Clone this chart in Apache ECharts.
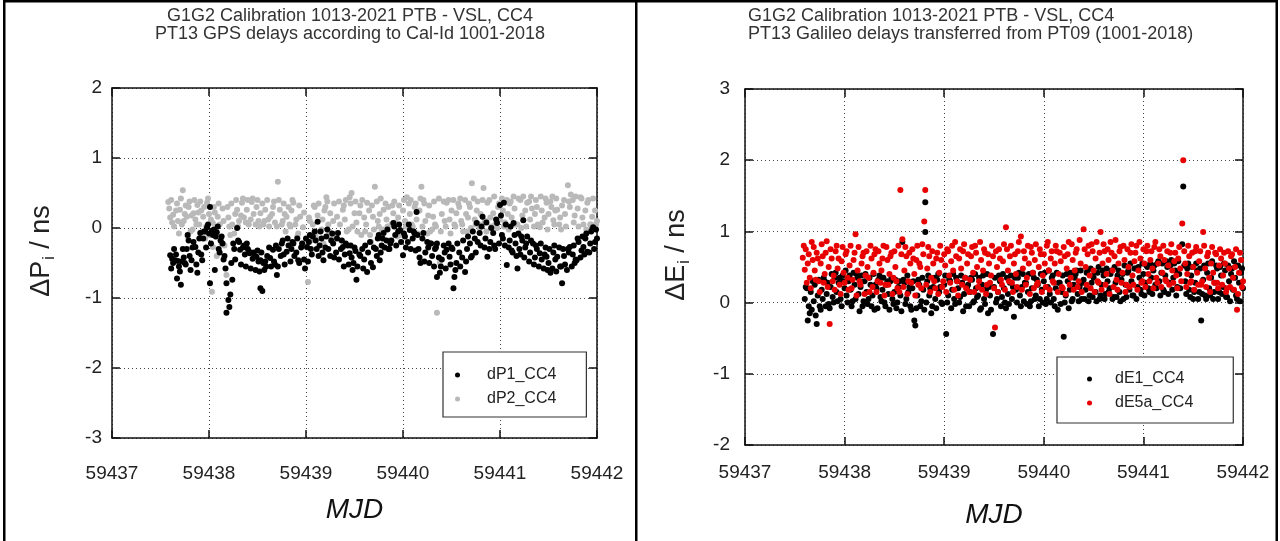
<!DOCTYPE html>
<html>
<head>
<meta charset="utf-8">
<script src="https://cdn.jsdelivr.net/npm/echarts@6/dist/echarts.min.js"></script>
<style>
html,body{margin:0;padding:0;background:#fff;}
#chart{width:1280px;height:541px;}
</style>
</head>
<body>
<div id="chart"></div>
<script>
// ---------- DATA ----------
const xTicks = [59437, 59438, 59439, 59440, 59441, 59442];
const leftTitle = 'G1G2 Calibration 1013-2021 PTB - VSL, CC4\nPT13 GPS delays according to Cal-Id 1001-2018';
const rightTitle = 'G1G2 Calibration 1013-2021 PTB - VSL, CC4\nPT13 Galileo delays transferred from PT09 (1001-2018)';
const seriesNames = ['dP1_CC4', 'dP2_CC4', 'dE1_CC4', 'dE5a_CC4'];

const dP1 = [
[59437.60,-0.39],[59437.62,-0.44],[59437.63,-0.50],[59437.65,-0.46],[59437.66,-0.38],[59437.67,-0.72],[59437.69,-0.55],[59437.71,-0.81],
[59437.72,-0.48],[59437.74,-0.42],[59437.75,-0.50],[59437.77,-0.30],[59437.78,-0.10],[59437.80,-0.40],[59437.82,-0.46],[59437.84,-0.20],
[59437.86,-0.27],[59437.88,-0.64],[59437.89,-0.35],[59437.91,-0.07],[59437.93,-0.46],[59437.94,-0.15],[59437.96,-0.05],[59437.98,0.01],
[59438.00,-0.08],[59438.01,0.30],[59438.01,-0.79],[59438.03,-0.04],[59438.04,-0.10],[59438.05,-0.02],[59438.06,-0.60],[59438.07,-0.12],
[59438.08,-0.06],[59438.10,-0.30],[59438.12,-0.18],[59438.14,-0.22],[59438.16,-0.40],[59438.18,-0.79],[59438.18,-1.21],[59438.20,-1.03],
[59438.21,-1.13],[59438.22,-0.95],[59438.24,-0.74],[59438.26,-0.30],[59438.29,0.00],[59438.31,-0.20],[59438.32,-0.31],[59438.35,-0.28],
[59438.37,-0.38],[59438.39,-0.22],[59438.41,-0.33],[59438.42,-0.36],[59438.45,-0.44],[59438.47,-0.40],[59438.49,-0.41],[59438.51,-0.48],
[59438.53,-0.46],[59438.53,-0.86],[59438.55,-0.90],[59438.56,-0.50],[59438.58,-0.48],[59438.60,-0.40],[59438.63,-0.43],[59438.66,-0.31],
[59438.68,-0.52],[59438.70,-0.67],[59438.72,-0.30],[59438.75,-0.22],[59438.77,-0.38],[59438.80,-0.34],[59438.82,-0.25],[59438.85,-0.30],
[59438.87,-0.22],[59438.90,-0.35],[59438.92,-0.46],[59438.95,-0.28],[59438.99,-0.58],[59439.01,-0.27],[59439.03,-0.20],[59439.05,-0.30],
[59439.07,-0.12],[59439.10,-0.18],[59439.12,0.09],[59439.14,-0.25],[59439.16,-0.15],[59439.18,-0.46],[59439.21,-0.12],[59439.23,-0.30],
[59439.26,-0.18],[59439.28,-0.22],[59439.31,-0.35],[59439.33,-0.07],[59439.36,-0.30],[59439.38,-0.27],[59439.40,-0.38],[59439.43,-0.25],
[59439.45,-0.36],[59439.47,-0.42],[59439.49,-0.50],[59439.51,-0.33],[59439.52,-0.74],[59439.55,-0.38],[59439.58,-0.30],[59439.60,-0.45],
[59439.63,-0.63],[59439.66,-0.20],[59439.69,-0.56],[59439.72,-0.30],[59439.74,-0.15],[59439.76,-0.46],[59439.78,-0.25],[59439.80,-0.07],
[59439.83,-0.18],[59439.85,-0.30],[59439.87,-0.22],[59439.90,0.07],[59439.92,-0.10],[59439.95,-0.05],[59439.97,-0.03],[59440.00,-0.39],
[59440.02,-0.12],[59440.05,-0.20],[59440.07,-0.03],[59440.10,-0.15],[59440.12,-0.08],[59440.14,0.23],[59440.16,-0.30],[59440.18,-0.50],
[59440.21,-0.07],[59440.23,-0.35],[59440.26,-0.28],[59440.28,-0.22],[59440.30,-0.40],[59440.33,-0.30],[59440.35,-0.22],[59440.35,-0.70],
[59440.38,-0.64],[59440.40,-0.45],[59440.43,-0.35],[59440.45,-0.31],[59440.48,-0.41],[59440.50,-0.28],[59440.52,-0.86],[59440.53,-0.70],
[59440.55,-0.50],[59440.58,-0.35],[59440.61,-0.42],[59440.64,-0.63],[59440.66,-0.30],[59440.69,-0.22],[59440.71,-0.40],[59440.74,-0.15],
[59440.76,0.07],[59440.79,-0.07],[59440.80,-0.25],[59440.82,0.16],[59440.85,-0.15],[59440.87,-0.41],[59440.90,-0.20],[59440.93,-0.07],
[59440.95,-0.30],[59440.97,0.07],[59441.00,0.33],[59441.02,-0.10],[59441.04,0.36],[59441.05,-0.25],[59441.07,-0.53],[59441.10,-0.18],
[59441.12,-0.32],[59441.14,0.07],[59441.16,-0.22],[59441.18,-0.58],[59441.20,-0.30],[59441.22,-0.12],[59441.24,0.11],[59441.26,-0.28],
[59441.28,-0.12],[59441.31,-0.35],[59441.34,-0.22],[59441.36,-0.42],[59441.38,-0.30],[59441.41,-0.36],[59441.43,-0.45],[59441.46,-0.38],
[59441.48,-0.41],[59441.50,-0.50],[59441.52,-0.64],[59441.55,-0.35],[59441.57,-0.45],[59441.59,-0.41],[59441.62,-0.55],[59441.64,-0.79],
[59441.66,-0.40],[59441.69,-0.60],[59441.70,-0.30],[59441.72,-0.27],[59441.75,-0.38],[59441.77,-0.50],[59441.79,-0.46],[59441.81,-0.20],
[59441.84,-0.32],[59441.86,-0.27],[59441.88,-0.15],[59441.90,-0.34],[59441.93,-0.22],[59441.96,0.01],[59441.98,-0.20],[59442.00,-0.15],
[59437.61,-0.58],[59437.64,-0.30],[59437.68,-0.47],[59437.70,-0.62],[59437.73,-0.30],[59437.76,-0.52],[59437.79,-0.18],[59437.81,-0.60],
[59437.83,-0.28],[59437.87,-0.52],[59437.90,-0.15],[59437.92,-0.38],[59437.95,-0.05],[59437.97,-0.28],[59437.99,0.05],[59438.02,-0.22],
[59438.09,0.02],[59438.11,-0.35],[59438.13,-0.12],[59438.15,-0.45],[59438.17,-0.58],[59438.23,-0.50],[59438.25,-0.22],[59438.27,-0.45],
[59438.30,-0.18],[59438.33,-0.52],[59438.36,-0.25],[59438.38,-0.55],[59438.40,-0.30],[59438.43,-0.58],[59438.46,-0.35],[59438.48,-0.60],
[59438.50,-0.32],[59438.52,-0.62],[59438.54,-0.35],[59438.57,-0.60],[59438.59,-0.55],[59438.62,-0.28],[59438.64,-0.55],[59438.67,-0.48],
[59438.69,-0.25],[59438.71,-0.55],[59438.74,-0.40],[59438.76,-0.18],[59438.78,-0.52],[59438.81,-0.15],[59438.84,-0.48],[59438.86,-0.20],
[59438.88,-0.40],[59438.91,-0.15],[59438.93,-0.50],[59438.96,-0.22],[59438.98,-0.45],[59439.00,-0.15],[59439.02,-0.48],[59439.04,-0.10],
[59439.06,-0.38],[59439.09,-0.05],[59439.11,-0.30],[59439.13,-0.40],[59439.15,-0.05],[59439.17,-0.35],[59439.20,-0.28],[59439.22,-0.02],
[59439.25,-0.40],[59439.27,-0.08],[59439.29,-0.42],[59439.32,-0.15],[59439.34,-0.45],[59439.37,-0.18],[59439.39,-0.55],[59439.41,-0.22],
[59439.44,-0.52],[59439.46,-0.25],[59439.48,-0.60],[59439.50,-0.28],[59439.53,-0.55],[59439.56,-0.40],[59439.59,-0.58],[59439.61,-0.25],
[59439.64,-0.35],[59439.67,-0.50],[59439.70,-0.28],[59439.73,-0.40],[59439.75,-0.10],[59439.77,-0.35],[59439.79,-0.15],[59439.81,-0.28],
[59439.84,-0.02],[59439.86,-0.30],[59439.88,-0.18],[59439.91,0.02],[59439.93,-0.25],[59439.96,0.05],[59439.98,-0.20],[59440.01,-0.08],
[59440.03,-0.28],[59440.06,0.05],[59440.08,-0.30],[59440.11,-0.05],[59440.13,-0.32],[59440.15,-0.10],[59440.17,-0.42],[59440.20,-0.15],
[59440.22,-0.48],[59440.25,-0.20],[59440.27,-0.50],[59440.29,-0.22],[59440.32,-0.55],[59440.34,-0.28],[59440.37,-0.42],[59440.39,-0.55],
[59440.42,-0.25],[59440.44,-0.58],[59440.47,-0.22],[59440.49,-0.52],[59440.51,-0.30],[59440.54,-0.60],[59440.56,-0.22],[59440.59,-0.55],
[59440.62,-0.18],[59440.65,-0.48],[59440.67,-0.12],[59440.70,-0.42],[59440.72,-0.05],[59440.75,-0.35],[59440.77,-0.20],[59440.81,0.02],
[59440.84,-0.28],[59440.86,0.08],[59440.89,-0.30],[59440.91,0.00],[59440.94,-0.25],[59440.96,0.12],[59440.99,-0.22],[59441.01,0.18],
[59441.03,-0.15],[59441.06,0.05],[59441.09,-0.28],[59441.11,0.02],[59441.13,-0.35],[59441.15,-0.10],[59441.17,-0.40],[59441.19,-0.08],
[59441.21,-0.38],[59441.23,-0.18],[59441.25,-0.42],[59441.27,-0.22],[59441.30,-0.48],[59441.32,-0.18],[59441.35,-0.52],[59441.37,-0.25],
[59441.40,-0.55],[59441.42,-0.22],[59441.45,-0.58],[59441.47,-0.28],[59441.49,-0.60],[59441.51,-0.30],[59441.54,-0.58],[59441.56,-0.25],
[59441.58,-0.62],[59441.61,-0.28],[59441.63,-0.55],[59441.65,-0.30],[59441.67,-0.52],[59441.71,-0.35],[59441.74,-0.55],[59441.76,-0.25],
[59441.78,-0.45],[59441.80,-0.15],[59441.83,-0.42],[59441.85,-0.12],[59441.87,-0.38],[59441.89,-0.08],[59441.92,-0.35],[59441.94,-0.05],
[59441.97,-0.30],[59441.99,-0.02]
];

const dP2 = [
[59437.58,0.37],[59437.60,0.15],[59437.62,0.08],[59437.63,0.19],[59437.66,0.25],[59437.68,0.10],[59437.70,0.26],[59437.72,0.05],
[59437.73,0.54],[59437.75,0.20],[59437.77,0.16],[59437.79,0.30],[59437.81,-0.05],[59437.84,0.21],[59437.86,0.12],[59437.88,0.33],
[59437.90,0.05],[59437.92,0.25],[59437.94,0.16],[59437.96,-0.15],[59437.98,0.36],[59438.00,0.20],[59438.02,0.12],[59438.03,-0.91],
[59438.04,0.07],[59438.04,-0.27],[59438.06,0.22],[59438.08,-0.40],[59438.09,0.16],[59438.11,0.05],[59438.13,-0.22],[59438.15,0.10],
[59438.18,-0.67],[59438.20,0.15],[59438.22,-0.10],[59438.24,0.05],[59438.27,0.20],[59438.29,0.26],[59438.31,0.10],[59438.34,0.36],
[59438.36,0.15],[59438.39,0.26],[59438.41,0.05],[59438.44,0.37],[59438.46,0.20],[59438.49,0.30],[59438.51,0.10],[59438.53,0.21],
[59438.56,0.05],[59438.58,0.26],[59438.61,0.12],[59438.63,0.16],[59438.66,0.30],[59438.68,0.08],[59438.71,0.66],[59438.73,0.26],
[59438.76,0.10],[59438.78,0.20],[59438.80,0.16],[59438.83,0.05],[59438.85,0.25],[59438.87,0.36],[59438.90,0.12],[59438.92,-0.08],
[59438.94,0.16],[59438.97,0.01],[59439.00,-0.20],[59439.02,-0.77],[59439.04,0.10],[59439.07,0.05],[59439.09,0.30],[59439.12,0.18],
[59439.14,-0.05],[59439.17,0.12],[59439.19,0.25],[59439.21,0.44],[59439.23,0.05],[59439.25,0.21],[59439.28,0.10],[59439.30,-0.10],
[59439.32,0.16],[59439.35,0.05],[59439.38,0.26],[59439.40,0.12],[59439.42,-0.05],[59439.45,0.44],[59439.47,0.50],[59439.50,0.21],
[59439.52,0.08],[59439.55,0.21],[59439.57,-0.10],[59439.60,0.15],[59439.62,0.05],[59439.65,0.25],[59439.67,-0.20],[59439.69,0.16],
[59439.71,0.59],[59439.74,0.10],[59439.76,0.20],[59439.78,-0.05],[59439.80,0.26],[59439.83,0.12],[59439.85,0.30],[59439.88,0.05],
[59439.90,0.21],[59439.92,0.08],[59439.95,0.15],[59439.97,-0.10],[59440.00,0.25],[59440.02,0.10],[59440.04,0.44],[59440.07,0.20],
[59440.09,0.05],[59440.12,0.30],[59440.14,0.12],[59440.17,0.25],[59440.19,0.59],[59440.21,0.40],[59440.23,0.10],[59440.26,0.18],
[59440.28,-0.05],[59440.31,0.16],[59440.33,0.05],[59440.35,-1.21],[59440.38,-0.50],[59440.40,0.20],[59440.43,0.10],[59440.45,0.36],
[59440.48,0.12],[59440.50,0.25],[59440.53,0.05],[59440.55,0.21],[59440.58,0.30],[59440.60,0.10],[59440.62,-0.05],[59440.65,0.20],
[59440.67,0.15],[59440.69,0.30],[59440.71,0.64],[59440.74,0.12],[59440.76,0.25],[59440.78,0.05],[59440.80,0.20],[59440.83,0.57],
[59440.85,0.10],[59440.87,0.36],[59440.90,0.15],[59440.93,0.21],[59440.95,0.05],[59440.98,0.30],[59441.00,0.12],[59441.03,0.25],
[59441.05,0.08],[59441.08,0.20],[59441.10,0.35],[59441.12,0.15],[59441.15,0.28],[59441.18,0.05],[59441.21,0.40],[59441.23,0.18],
[59441.26,0.25],[59441.28,0.36],[59441.31,0.12],[59441.33,0.28],[59441.36,0.20],[59441.38,0.30],[59441.41,0.01],[59441.43,0.25],
[59441.46,0.15],[59441.48,0.36],[59441.50,0.20],[59441.53,0.30],[59441.55,0.11],[59441.57,0.25],[59441.59,0.26],[59441.62,0.15],
[59441.64,0.32],[59441.67,0.20],[59441.70,0.61],[59441.72,0.30],[59441.75,0.40],[59441.77,0.18],[59441.80,0.28],[59441.83,0.44],
[59441.85,0.15],[59441.88,0.25],[59441.90,0.36],[59441.93,0.05],[59441.95,0.16],[59441.98,0.25],[59442.00,0.10],
[59437.59,0.28],[59437.61,0.40],[59437.64,0.02],[59437.67,0.35],[59437.69,-0.08],[59437.71,0.42],[59437.74,0.10],[59437.76,0.32],
[59437.78,-0.12],[59437.80,0.38],[59437.82,0.18],[59437.83,-0.02],[59437.85,0.40],[59437.87,0.05],[59437.89,0.22],[59437.91,0.38],
[59437.93,-0.05],[59437.95,0.30],[59437.97,0.02],[59437.99,0.42],[59438.01,-0.10],[59438.05,0.30],[59438.07,-0.12],[59438.10,0.35],
[59438.12,-0.18],[59438.14,0.28],[59438.16,-0.25],[59438.19,0.30],[59438.21,0.02],[59438.23,0.35],[59438.26,-0.08],[59438.28,0.40],
[59438.30,0.02],[59438.33,0.18],[59438.35,0.42],[59438.38,0.08],[59438.40,0.40],[59438.43,0.12],[59438.45,0.42],[59438.48,0.05],
[59438.50,0.40],[59438.52,0.02],[59438.55,0.35],[59438.57,0.10],[59438.60,0.40],[59438.62,0.02],[59438.65,0.20],[59438.67,0.38],
[59438.70,0.02],[59438.72,0.40],[59438.75,0.05],[59438.77,0.35],[59438.79,-0.05],[59438.82,0.30],[59438.84,0.02],[59438.86,0.40],
[59438.89,0.05],[59438.91,-0.12],[59438.93,0.32],[59438.96,-0.22],[59438.98,0.22],[59439.01,-0.28],[59439.03,0.15],[59439.05,-0.18],
[59439.08,0.32],[59439.10,-0.12],[59439.13,0.35],[59439.16,-0.02],[59439.18,-0.22],[59439.20,0.30],[59439.22,0.38],[59439.24,-0.05],
[59439.27,-0.15],[59439.29,0.35],[59439.31,-0.08],[59439.34,0.38],[59439.36,-0.18],[59439.39,0.32],[59439.41,0.40],[59439.44,-0.02],
[59439.46,0.35],[59439.48,0.02],[59439.51,0.38],[59439.53,-0.05],[59439.56,0.32],[59439.58,0.40],[59439.61,-0.05],[59439.63,0.36],
[59439.66,-0.10],[59439.68,0.32],[59439.70,-0.02],[59439.73,0.38],[59439.75,0.02],[59439.77,0.42],[59439.79,-0.02],[59439.82,0.35],
[59439.84,0.02],[59439.86,-0.18],[59439.89,0.32],[59439.91,0.38],[59439.94,-0.12],[59439.96,0.32],[59439.99,-0.05],[59440.01,0.40],
[59440.03,0.02],[59440.06,0.35],[59440.08,0.40],[59440.10,0.02],[59440.13,0.35],[59440.15,-0.08],[59440.18,0.42],[59440.20,0.02],
[59440.22,0.35],[59440.25,-0.08],[59440.27,0.32],[59440.30,-0.02],[59440.32,0.38],[59440.34,0.02],[59440.37,0.42],[59440.39,-0.05],
[59440.42,0.38],[59440.44,0.02],[59440.47,0.40],[59440.49,-0.08],[59440.52,0.40],[59440.54,0.02],[59440.57,0.35],[59440.59,0.42],
[59440.61,0.05],[59440.64,0.40],[59440.66,-0.05],[59440.68,0.35],[59440.70,0.00],[59440.73,0.42],[59440.75,0.05],[59440.77,0.38],
[59440.79,0.00],[59440.82,0.40],[59440.84,0.08],[59440.86,-0.05],[59440.89,0.40],[59440.91,0.02],[59440.94,0.45],[59440.97,0.00],
[59440.99,0.35],[59441.02,0.42],[59441.04,0.02],[59441.07,0.40],[59441.09,-0.02],[59441.11,0.38],[59441.14,0.45],[59441.16,0.05],
[59441.19,0.42],[59441.22,0.00],[59441.24,0.45],[59441.27,0.02],[59441.30,0.38],[59441.32,0.45],[59441.35,0.02],[59441.37,0.40],
[59441.39,0.05],[59441.42,0.45],[59441.44,0.08],[59441.47,0.42],[59441.49,-0.02],[59441.52,0.38],[59441.54,0.45],[59441.56,0.05],
[59441.58,0.42],[59441.61,0.05],[59441.63,-0.02],[59441.66,0.40],[59441.68,0.02],[59441.71,0.38],[59441.73,0.48],[59441.76,0.08],
[59441.78,0.45],[59441.81,0.02],[59441.84,0.42],[59441.86,0.05],[59441.89,-0.02],[59441.91,0.40],[59441.94,0.05],[59441.96,0.42],
[59441.99,0.05]
];

const dE1 = [
[59437.60,0.05],[59437.62,0.20],[59437.63,-0.25],[59437.64,-0.05],[59437.66,0.15],[59437.67,-0.10],[59437.69,0.02],[59437.70,0.25],
[59437.72,-0.30],[59437.73,0.10],[59437.75,-0.05],[59437.77,0.18],[59437.78,0.05],[59437.80,0.30],[59437.82,0.12],[59437.84,-0.02],
[59437.86,0.22],[59437.88,0.08],[59437.90,0.35],[59437.92,0.15],[59437.94,0.28],[59437.96,0.05],[59437.98,0.38],[59438.00,0.20],
[59438.02,0.10],[59438.04,0.30],[59438.06,0.18],[59438.08,0.02],[59438.10,0.25],[59438.12,0.40],[59438.14,0.12],[59438.16,0.22],
[59438.18,-0.05],[59438.20,0.30],[59438.22,0.15],[59438.24,0.05],[59438.26,0.25],[59438.28,0.10],[59438.30,-0.10],[59438.32,0.20],
[59438.34,0.32],[59438.36,0.08],[59438.38,0.18],[59438.40,0.00],[59438.42,0.25],[59438.44,0.12],[59438.46,0.30],[59438.48,0.05],
[59438.50,0.15],[59438.52,-0.08],[59438.54,0.22],[59438.56,0.10],[59438.58,0.85],[59438.60,0.28],[59438.62,0.05],[59438.64,0.15],
[59438.66,-0.05],[59438.68,0.20],[59438.70,-0.25],[59438.71,-0.32],[59438.73,0.10],[59438.75,0.25],[59438.77,0.02],[59438.79,0.18],
[59438.81,1.41],[59438.81,0.99],[59438.83,0.30],[59438.85,0.10],[59438.87,-0.15],[59438.89,0.22],[59438.91,0.05],[59438.93,0.32],
[59438.95,0.15],[59438.97,0.00],[59439.00,0.25],[59439.02,-0.44],[59439.04,0.10],[59439.06,0.30],[59439.08,0.18],[59439.10,0.05],
[59439.12,0.35],[59439.14,0.20],[59439.16,0.08],[59439.18,0.28],[59439.20,0.12],[59439.22,-0.05],[59439.24,0.25],[59439.26,0.15],
[59439.28,0.32],[59439.30,0.02],[59439.32,0.20],[59439.34,0.10],[59439.36,-0.10],[59439.38,0.25],[59439.40,0.05],[59439.42,0.18],
[59439.44,-0.15],[59439.46,0.10],[59439.49,-0.44],[59439.50,0.22],[59439.52,0.00],[59439.54,0.15],[59439.56,0.30],[59439.58,0.08],
[59439.60,0.20],[59439.62,-0.08],[59439.64,0.12],[59439.66,0.28],[59439.68,0.05],[59439.70,-0.20],[59439.72,0.18],[59439.74,0.35],
[59439.76,0.10],[59439.78,0.22],[59439.80,0.02],[59439.82,0.28],[59439.84,0.15],[59439.86,-0.05],[59439.88,0.20],[59439.90,0.35],
[59439.92,0.10],[59439.94,0.25],[59439.96,0.05],[59439.98,0.18],[59440.00,0.30],[59440.02,-0.02],[59440.04,0.22],[59440.06,0.12],
[59440.08,0.35],[59440.10,0.05],[59440.12,0.20],[59440.14,-0.10],[59440.16,0.28],[59440.18,0.15],[59440.20,-0.48],[59440.22,0.10],
[59440.24,0.30],[59440.26,0.18],[59440.28,0.02],[59440.30,0.25],[59440.32,0.40],[59440.34,0.12],[59440.36,0.22],[59440.38,0.05],
[59440.40,0.32],[59440.42,0.18],[59440.44,0.45],[59440.46,0.10],[59440.48,0.28],[59440.50,0.35],[59440.52,0.15],[59440.54,0.42],
[59440.56,0.05],[59440.58,0.25],[59440.60,0.38],[59440.62,0.12],[59440.64,0.30],[59440.66,0.20],[59440.68,0.45],[59440.70,0.08],
[59440.72,0.28],[59440.74,0.38],[59440.76,0.15],[59440.78,0.32],[59440.80,0.05],[59440.82,0.25],[59440.84,0.42],[59440.86,0.18],
[59440.88,0.30],[59440.90,0.10],[59440.92,0.48],[59440.94,0.22],[59440.96,0.35],[59440.98,0.12],[59441.00,0.40],[59441.02,0.28],
[59441.04,0.50],[59441.06,0.15],[59441.08,0.35],[59441.10,0.45],[59441.12,0.25],[59441.14,0.55],[59441.16,0.30],[59441.18,0.42],
[59441.20,0.18],[59441.22,0.38],[59441.24,0.50],[59441.26,0.28],[59441.28,0.60],[59441.30,0.35],[59441.32,0.45],[59441.34,0.22],
[59441.36,0.40],[59441.39,0.82],[59441.40,1.63],[59441.42,0.30],[59441.44,0.48],[59441.46,0.18],[59441.48,0.38],[59441.50,0.05],
[59441.52,0.28],[59441.54,0.45],[59441.56,0.15],[59441.58,-0.25],[59441.60,0.32],[59441.62,0.10],[59441.64,0.42],[59441.66,0.20],
[59441.68,0.35],[59441.70,0.05],[59441.72,0.28],[59441.74,0.48],[59441.76,0.15],[59441.78,0.38],[59441.80,0.22],[59441.82,0.45],
[59441.84,0.08],[59441.86,0.30],[59441.88,0.40],[59441.90,0.18],[59441.92,0.35],[59441.94,0.05],[59441.96,0.28],[59441.98,0.42],
[59442.00,0.20],
[59437.61,0.22],[59437.65,-0.15],[59437.68,0.30],[59437.71,-0.18],[59437.74,0.32],[59437.76,-0.10],[59437.79,0.35],[59437.81,-0.05],
[59437.83,0.28],[59437.85,-0.08],[59437.87,0.40],[59437.89,0.00],[59437.91,0.42],[59437.93,0.02],[59437.95,0.35],[59437.97,-0.05],
[59437.99,0.30],[59438.01,0.45],[59438.03,0.00],[59438.05,0.38],[59438.07,-0.05],[59438.09,0.42],[59438.11,0.05],[59438.13,0.35],
[59438.15,-0.12],[59438.17,0.38],[59438.19,0.02],[59438.21,0.40],[59438.23,-0.02],[59438.25,0.35],[59438.27,-0.05],[59438.29,0.40],
[59438.31,0.25],[59438.33,-0.08],[59438.35,0.38],[59438.37,0.02],[59438.39,0.35],[59438.41,-0.05],[59438.43,0.30],[59438.45,-0.10],
[59438.47,0.35],[59438.49,-0.02],[59438.51,0.32],[59438.53,0.00],[59438.55,0.30],[59438.57,-0.12],[59438.59,0.32],[59438.61,-0.02],
[59438.63,0.38],[59438.65,0.22],[59438.67,-0.10],[59438.69,0.30],[59438.72,-0.08],[59438.74,0.32],[59438.76,-0.05],[59438.78,0.35],
[59438.80,-0.10],[59438.82,0.00],[59438.84,0.38],[59438.86,0.20],[59438.88,-0.05],[59438.90,0.35],[59438.92,-0.08],[59438.94,0.40],
[59438.96,0.22],[59438.98,-0.02],[59439.01,0.38],[59439.03,0.00],[59439.05,0.32],[59439.07,-0.08],[59439.09,0.40],[59439.11,-0.02],
[59439.13,0.30],[59439.15,0.00],[59439.17,0.38],[59439.19,-0.12],[59439.21,0.35],[59439.23,0.22],[59439.25,-0.05],[59439.27,0.35],
[59439.29,0.00],[59439.31,0.40],[59439.33,0.08],[59439.35,0.35],[59439.37,-0.08],[59439.39,0.38],[59439.41,-0.02],[59439.43,0.40],
[59439.45,0.22],[59439.47,-0.10],[59439.51,0.35],[59439.53,0.05],[59439.55,0.38],[59439.57,-0.05],[59439.59,0.40],[59439.61,0.00],
[59439.63,0.35],[59439.65,-0.02],[59439.67,0.38],[59439.69,0.22],[59439.71,0.35],[59439.73,0.00],[59439.75,0.42],[59439.77,-0.05],
[59439.79,0.40],[59439.81,0.28],[59439.83,-0.02],[59439.85,0.40],[59439.87,0.02],[59439.89,0.42],[59439.91,0.05],[59439.93,0.32],
[59439.95,-0.05],[59439.97,0.40],[59439.99,0.00],[59440.01,0.42],[59440.03,0.05],[59440.05,0.45],[59440.07,0.00],[59440.09,0.38],
[59440.11,-0.05],[59440.13,0.42],[59440.15,0.28],[59440.17,-0.02],[59440.19,0.38],[59440.21,0.00],[59440.23,0.40],[59440.25,-0.08],
[59440.27,0.42],[59440.29,0.05],[59440.31,0.35],[59440.33,0.45],[59440.35,0.02],[59440.37,0.45],[59440.39,0.28],[59440.41,0.05],
[59440.43,0.42],[59440.45,0.02],[59440.47,0.48],[59440.49,0.08],[59440.51,0.42],[59440.53,0.02],[59440.55,0.50],[59440.57,0.10],
[59440.59,0.45],[59440.61,0.05],[59440.63,0.48],[59440.65,0.15],[59440.67,0.40],[59440.69,0.05],[59440.71,0.50],[59440.73,0.08],
[59440.75,0.45],[59440.77,0.02],[59440.79,0.40],[59440.81,0.52],[59440.83,0.08],[59440.85,0.45],[59440.87,0.55],[59440.89,0.10],
[59440.91,0.48],[59440.93,0.05],[59440.95,0.50],[59440.97,0.18],[59440.99,0.55],[59441.01,0.10],[59441.03,0.52],[59441.05,0.20],
[59441.07,0.55],[59441.09,0.12],[59441.11,0.52],[59441.13,0.20],[59441.15,0.58],[59441.17,0.10],[59441.19,0.55],[59441.21,0.15],
[59441.23,0.58],[59441.25,0.12],[59441.27,0.52],[59441.29,0.18],[59441.31,0.55],[59441.33,0.10],[59441.35,0.58],[59441.37,0.20],
[59441.41,0.52],[59441.43,0.12],[59441.45,0.55],[59441.47,0.08],[59441.49,0.50],[59441.51,0.15],[59441.53,0.55],[59441.55,0.05],
[59441.57,0.48],[59441.59,0.12],[59441.61,0.52],[59441.63,0.05],[59441.65,0.55],[59441.67,0.10],[59441.69,0.58],[59441.71,0.15],
[59441.73,0.52],[59441.75,0.05],[59441.77,0.50],[59441.79,0.12],[59441.81,0.55],[59441.83,0.08],[59441.85,0.52],[59441.87,0.02],
[59441.89,0.48],[59441.91,0.58],[59441.93,0.10],[59441.95,0.52],[59441.97,0.02],[59441.99,0.48]
];

const dE5a = [
[59437.58,0.63],[59437.60,0.46],[59437.61,0.75],[59437.63,0.55],[59437.65,0.35],[59437.67,0.85],[59437.68,0.60],[59437.70,0.45],
[59437.72,0.70],[59437.74,0.30],[59437.76,0.55],[59437.78,0.65],[59437.80,0.40],[59437.82,0.86],[59437.84,0.50],[59437.85,-0.30],
[59437.87,0.62],[59437.89,0.38],[59437.91,0.72],[59437.93,0.48],[59437.95,0.25],[59437.97,0.58],[59437.99,0.42],[59438.01,0.68],
[59438.03,0.35],[59438.05,0.52],[59438.07,0.20],[59438.09,0.60],[59438.11,0.96],[59438.13,0.45],[59438.15,0.30],[59438.17,0.55],
[59438.19,0.70],[59438.21,0.38],[59438.23,0.50],[59438.25,0.15],[59438.27,0.62],[59438.29,0.42],[59438.31,0.75],[59438.33,0.30],
[59438.35,0.55],[59438.37,0.45],[59438.39,0.80],[59438.41,0.25],[59438.43,0.60],[59438.45,0.40],[59438.47,0.70],[59438.49,0.35],
[59438.51,0.50],[59438.53,0.20],[59438.56,1.58],[59438.58,0.89],[59438.60,0.45],[59438.62,0.65],[59438.64,0.30],[59438.66,0.55],
[59438.68,0.75],[59438.70,0.40],[59438.72,0.60],[59438.74,0.25],[59438.76,0.50],[59438.78,0.82],[59438.80,1.14],[59438.81,1.58],
[59438.83,0.48],[59438.85,0.65],[59438.87,0.35],[59438.89,0.55],[59438.91,0.20],[59438.93,0.70],[59438.95,0.42],[59438.97,0.60],
[59438.99,0.30],[59439.01,0.52],[59439.03,0.75],[59439.05,0.38],[59439.07,0.58],[59439.09,0.45],[59439.11,0.85],[59439.13,0.30],
[59439.15,0.62],[59439.17,0.48],[59439.19,0.72],[59439.21,0.35],[59439.23,0.55],[59439.25,0.15],[59439.27,0.65],[59439.29,0.42],
[59439.31,0.80],[59439.33,0.50],[59439.35,0.30],[59439.37,0.60],[59439.39,0.45],[59439.41,0.70],[59439.43,0.25],[59439.45,0.55],
[59439.47,0.38],[59439.49,0.65],[59439.51,-0.35],[59439.53,0.50],[59439.55,0.75],[59439.57,0.32],[59439.59,0.58],[59439.62,1.06],
[59439.64,0.45],[59439.66,0.65],[59439.68,0.28],[59439.70,0.55],[59439.72,0.40],[59439.74,0.72],[59439.77,0.93],[59439.79,0.48],
[59439.81,0.62],[59439.83,0.35],[59439.85,0.55],[59439.87,0.78],[59439.89,0.42],[59439.91,0.60],[59439.93,0.25],[59439.95,0.50],
[59439.97,0.68],[59439.99,0.38],[59440.01,0.55],[59440.03,0.80],[59440.05,0.45],[59440.07,0.62],[59440.09,0.30],[59440.11,0.55],
[59440.13,0.72],[59440.15,0.40],[59440.17,0.58],[59440.19,0.20],[59440.21,0.65],[59440.23,0.48],[59440.25,0.85],[59440.27,0.35],
[59440.29,0.60],[59440.31,0.45],[59440.33,0.75],[59440.35,0.30],[59440.37,0.55],[59440.40,1.03],[59440.42,0.50],[59440.44,0.68],
[59440.46,0.38],[59440.48,0.82],[59440.50,0.45],[59440.52,0.62],[59440.54,0.30],[59440.57,0.99],[59440.59,0.55],[59440.61,0.72],
[59440.63,0.40],[59440.65,0.60],[59440.67,0.85],[59440.69,0.45],[59440.71,0.65],[59440.73,0.32],[59440.75,0.55],[59440.77,0.78],
[59440.79,0.42],[59440.81,0.60],[59440.83,0.25],[59440.85,0.50],[59440.87,0.70],[59440.89,0.38],[59440.91,0.58],[59440.93,0.80],
[59440.95,0.45],[59440.97,0.62],[59440.99,0.30],[59441.01,0.55],[59441.03,0.72],[59441.05,0.40],[59441.07,0.60],[59441.09,0.48],
[59441.11,0.78],[59441.13,0.35],[59441.15,0.55],[59441.17,0.65],[59441.19,0.42],[59441.21,0.60],[59441.23,0.30],[59441.25,0.52],
[59441.27,0.70],[59441.29,0.45],[59441.31,0.58],[59441.33,0.38],[59441.35,0.62],[59441.37,0.48],[59441.39,1.11],[59441.40,2.00],
[59441.42,0.55],[59441.44,0.40],[59441.46,0.65],[59441.48,0.30],[59441.50,0.50],[59441.52,0.72],[59441.54,0.42],[59441.56,0.58],
[59441.58,0.25],[59441.60,0.99],[59441.62,0.48],[59441.64,0.65],[59441.66,0.35],[59441.68,0.55],[59441.70,0.42],[59441.72,0.70],
[59441.74,0.28],[59441.76,0.52],[59441.78,0.62],[59441.80,0.38],[59441.82,0.55],[59441.84,0.20],[59441.86,0.48],[59441.88,0.65],
[59441.90,0.35],[59441.92,0.50],[59441.94,-0.10],[59441.96,0.42],[59441.98,0.60],[59442.00,0.30],
[59437.59,0.80],[59437.62,0.28],[59437.64,0.68],[59437.66,0.20],[59437.69,0.78],[59437.71,0.32],[59437.73,0.62],[59437.75,0.15],
[59437.77,0.82],[59437.79,0.28],[59437.81,0.70],[59437.83,0.22],[59437.86,0.75],[59437.88,0.30],[59437.90,0.18],[59437.92,0.80],
[59437.94,0.62],[59437.96,0.12],[59437.98,0.78],[59438.00,0.28],[59438.02,0.72],[59438.04,0.18],[59438.06,0.80],[59438.08,0.32],
[59438.10,0.70],[59438.12,0.10],[59438.14,0.78],[59438.16,0.25],[59438.18,0.65],[59438.20,0.12],[59438.22,0.72],[59438.24,0.35],
[59438.26,0.80],[59438.28,0.22],[59438.30,0.68],[59438.32,0.15],[59438.34,0.72],[59438.36,0.28],[59438.38,0.62],[59438.40,0.10],
[59438.42,0.78],[59438.44,0.25],[59438.46,0.65],[59438.48,0.12],[59438.50,0.72],[59438.52,0.30],[59438.54,0.80],[59438.55,0.15],
[59438.57,0.68],[59438.59,0.22],[59438.61,0.78],[59438.63,0.12],[59438.65,0.70],[59438.67,0.28],[59438.69,0.62],[59438.71,0.10],
[59438.73,0.80],[59438.75,0.55],[59438.77,0.20],[59438.79,0.68],[59438.82,0.25],[59438.84,0.78],[59438.86,0.15],[59438.88,0.72],
[59438.90,0.30],[59438.92,0.62],[59438.94,0.12],[59438.96,0.80],[59438.98,0.22],[59439.00,0.68],[59439.02,0.15],[59439.04,0.72],
[59439.06,0.28],[59439.08,0.80],[59439.10,0.18],[59439.12,0.65],[59439.14,0.10],[59439.16,0.75],[59439.18,0.25],[59439.20,0.82],
[59439.22,0.20],[59439.24,0.68],[59439.26,0.32],[59439.28,0.78],[59439.30,0.15],[59439.32,0.70],[59439.34,0.22],[59439.36,0.85],
[59439.38,0.18],[59439.40,0.75],[59439.42,0.12],[59439.44,0.68],[59439.46,0.28],[59439.48,0.80],[59439.50,0.20],[59439.52,0.72],
[59439.54,0.15],[59439.56,0.62],[59439.58,0.25],[59439.60,0.82],[59439.61,0.18],[59439.63,0.75],[59439.65,0.30],[59439.67,0.80],
[59439.69,0.15],[59439.71,0.68],[59439.73,0.22],[59439.75,0.85],[59439.78,0.18],[59439.80,0.72],[59439.82,0.25],[59439.84,0.80],
[59439.86,0.12],[59439.88,0.70],[59439.90,0.20],[59439.92,0.82],[59439.94,0.28],[59439.96,0.75],[59439.98,0.15],[59440.00,0.68],
[59440.02,0.22],[59440.04,0.85],[59440.06,0.18],[59440.08,0.72],[59440.10,0.28],[59440.12,0.80],[59440.14,0.15],[59440.16,0.70],
[59440.18,0.22],[59440.20,0.78],[59440.22,0.12],[59440.24,0.68],[59440.26,0.25],[59440.28,0.82],[59440.30,0.18],[59440.32,0.70],
[59440.34,0.22],[59440.36,0.88],[59440.38,0.15],[59440.41,0.75],[59440.43,0.25],[59440.45,0.80],[59440.47,0.20],[59440.49,0.72],
[59440.51,0.15],[59440.53,0.85],[59440.55,0.28],[59440.56,0.70],[59440.58,0.18],[59440.60,0.82],[59440.62,0.25],[59440.64,0.75],
[59440.66,0.12],[59440.68,0.70],[59440.70,0.22],[59440.72,0.88],[59440.74,0.18],[59440.76,0.72],[59440.78,0.28],[59440.80,0.80],
[59440.82,0.15],[59440.84,0.75],[59440.86,0.22],[59440.88,0.82],[59440.90,0.25],[59440.92,0.70],[59440.94,0.18],[59440.96,0.85],
[59440.98,0.28],[59441.00,0.75],[59441.02,0.22],[59441.04,0.80],[59441.06,0.30],[59441.08,0.72],[59441.10,0.20],[59441.12,0.85],
[59441.14,0.28],[59441.16,0.75],[59441.18,0.22],[59441.20,0.80],[59441.22,0.32],[59441.24,0.72],[59441.26,0.25],[59441.28,0.82],
[59441.30,0.28],[59441.32,0.70],[59441.34,0.20],[59441.36,0.78],[59441.38,0.30],[59441.41,0.72],[59441.43,0.22],[59441.45,0.80],
[59441.47,0.28],[59441.49,0.70],[59441.51,0.18],[59441.53,0.78],[59441.55,0.25],[59441.57,0.72],[59441.59,0.30],[59441.61,0.80],
[59441.63,0.22],[59441.65,0.70],[59441.67,0.15],[59441.69,0.78],[59441.71,0.28],[59441.73,0.68],[59441.75,0.20],[59441.77,0.75],
[59441.79,0.25],[59441.81,0.70],[59441.83,0.15],[59441.85,0.72],[59441.87,0.22],[59441.89,0.68],[59441.91,0.18],[59441.93,0.75],
[59441.95,0.12],[59441.97,0.70],[59441.99,0.22]
];

// ---------- CHART ----------
const FONT = '"Liberation Sans", Arial, sans-serif';
const chart = echarts.init(document.getElementById('chart'), null, {renderer: 'canvas'});

function xAxes(grid, labelMargin, nameGap) {
  return [
    {
      gridIndex: grid, type: 'value', position: 'bottom',
      min: xTicks[0], max: xTicks[xTicks.length - 1], interval: 1,
      name: 'MJD', nameLocation: 'middle', nameGap: nameGap,
      nameTextStyle: {fontFamily: FONT, fontSize: 28, fontStyle: 'italic', color: '#111'},
      axisLine: {show: true, onZero: false, lineStyle: {color: '#111', width: 1.5}},
      axisTick: {show: true, inside: true, length: 8, lineStyle: {color: '#111', width: 1.5}},
      axisLabel: {show: true, margin: labelMargin, fontFamily: FONT, fontSize: 19, color: '#222',
                  formatter: v => String(v), showMinLabel: true, showMaxLabel: true},
      splitLine: {show: true, lineStyle: {color: '#444', type: [1, 3], width: 1}}
    },
    {
      gridIndex: grid, type: 'value', position: 'top',
      min: xTicks[0], max: xTicks[xTicks.length - 1], interval: 1,
      axisLine: {show: true, onZero: false, lineStyle: {color: '#111', width: 1.5}},
      axisTick: {show: true, inside: true, length: 8, lineStyle: {color: '#111', width: 1.5}},
      axisLabel: {show: false}, splitLine: {show: false}
    }
  ];
}

function yAxes(grid, min, max, name, nameGap, labelMargin) {
  return [
    {
      gridIndex: grid, type: 'value', position: 'left',
      min: min, max: max, interval: 1,
      name: name, nameLocation: 'middle', nameGap: nameGap, nameRotate: 90,
      nameTextStyle: {fontFamily: FONT, color: '#222', padding: [0, 0, 0, 24],
        rich: {
          a: {fontFamily: FONT, fontSize: 27, color: '#222'},
          s: {fontFamily: FONT, fontSize: 16, color: '#222', padding: [16, 0, 0, 1]}
        }},
      axisLine: {show: true, onZero: false, lineStyle: {color: '#111', width: 1.5}},
      axisTick: {show: true, inside: true, length: 8, lineStyle: {color: '#111', width: 1.5}},
      axisLabel: {show: true, margin: labelMargin, fontFamily: FONT, fontSize: 19, color: '#222'},
      splitLine: {show: true, lineStyle: {color: '#444', type: [1, 3], width: 1}}
    },
    {
      gridIndex: grid, type: 'value', position: 'right',
      min: min, max: max, interval: 1,
      axisLine: {show: true, onZero: false, lineStyle: {color: '#111', width: 1.5}},
      axisTick: {show: true, inside: true, length: 8, lineStyle: {color: '#111', width: 1.5}},
      axisLabel: {show: false}, splitLine: {show: false}
    }
  ];
}

function scatter(name, data, xi, yi, color, z) {
  return {
    name: name, type: 'scatter', xAxisIndex: xi, yAxisIndex: yi,
    data: data, symbol: 'circle', symbolSize: 6, z: z, large: false,
    itemStyle: {color: color, opacity: 1}, silent: true, animation: false
  };
}

const legendCommon = {
  orient: 'vertical', icon: 'circle', itemWidth: 5, itemHeight: 5, itemGap: 8,
  backgroundColor: '#fff', borderColor: '#333', borderWidth: 1.2, borderRadius: 0,
  selectedMode: false
};

const titleStyle = {fontFamily: FONT, fontSize: 18, fontWeight: 'normal', color: '#333', lineHeight: 18};

const option = {
  backgroundColor: '#fff',
  animation: false,
  title: [
    {text: leftTitle, left: 350, top: 7, padding: 0, textAlign: 'center', textStyle: titleStyle},
    {text: rightTitle, left: 748, top: 7, padding: 0, textAlign: 'left', textStyle: titleStyle}
  ],
  grid: [
    {left: 112, top: 88, width: 485, height: 350, show: false},
    {left: 745, top: 89, width: 498, height: 356, show: false}
  ],
  xAxis: [].concat(xAxes(0, 26, 58), xAxes(1, 18, 56)),
  yAxis: [].concat(
    yAxes(0, -3, 2, '{a|ΔP}{s|i}{a| / ns}', 54, 10),
    yAxes(1, -2, 3, '{a|ΔE}{s|i}{a| / ns}', 52, 15)
  ),
  legend: [
    Object.assign({}, legendCommon, {data: [seriesNames[0], seriesNames[1]], left: 443, top: 352,
      padding: [15, 30, 10, 12],
      textStyle: {fontFamily: FONT, fontSize: 16, color: '#222', padding: [0, 0, 0, 22]}}),
    Object.assign({}, legendCommon, {data: [seriesNames[2], seriesNames[3]], left: 1057, top: 357,
      padding: [14, 40, 12, 30],
      textStyle: {fontFamily: FONT, fontSize: 16, color: '#222', padding: [0, 0, 0, 18]}})
  ],
  series: [
    scatter(seriesNames[1], dP2, 0, 0, '#b9b9b9', 2),
    scatter(seriesNames[0], dP1, 0, 0, '#000000', 3),
    scatter(seriesNames[2], dE1, 2, 2, '#000000', 2),
    scatter(seriesNames[3], dE5a, 2, 2, '#e80000', 3)
  ],
  graphic: [
    {type: 'rect', shape: {x: 3, y: 0, width: 2.5, height: 541}, style: {fill: '#000'}, z: 100},
    {type: 'rect', shape: {x: 3, y: 0, width: 1275, height: 2.5}, style: {fill: '#000'}, z: 100},
    {type: 'rect', shape: {x: 635, y: 0, width: 2.5, height: 541}, style: {fill: '#000'}, z: 100},
    {type: 'rect', shape: {x: 1275.5, y: 0, width: 2.5, height: 541}, style: {fill: '#000'}, z: 100}
  ]
};
chart.setOption(option);
</script>
</body>
</html>
